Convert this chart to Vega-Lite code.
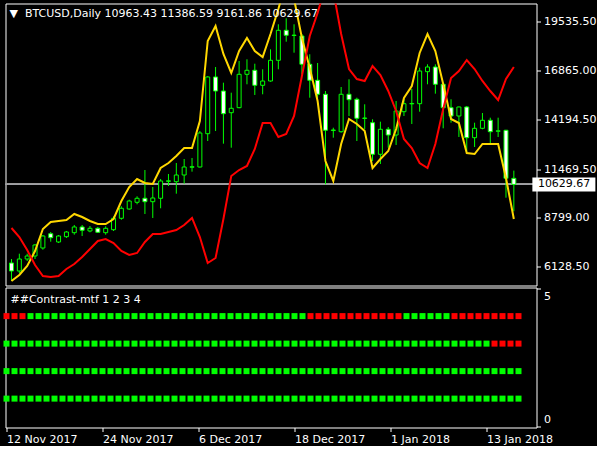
{
  "$schema": "https://vega.github.io/schema/vega-lite/v6.json",
  "background": "black",
  "padding": {"left": 2.5, "top": 2.5, "right": 0, "bottom": 0},
  "config": {
    "view": {"stroke": "white", "strokeWidth": 1},
    "font": "DejaVu Sans",
    "axis": {"labelFont": "DejaVu Sans", "labelFontSize": 11, "labelColor": "white", "tickColor": "white", "grid": false, "domain": false, "title": null}
  },
  "datasets": {
    "bars": [
      {"i":0,"date":"2017-11-12","open":6332,"high":6550,"low":5347,"close":5894,"yellow":5347,"red":8247,"tf1":"down","tf2":"up","tf3":"up","tf4":"up"},
      {"i":1,"date":"2017-11-13","open":5894,"high":6840,"low":5784,"close":6550,"yellow":5675,"red":7754,"tf1":"down","tf2":"up","tf3":"up","tf4":"up"},
      {"i":2,"date":"2017-11-14","open":6550,"high":6840,"low":6441,"close":6715,"yellow":6167,"red":7043,"tf1":"down","tf2":"up","tf3":"up","tf4":"up"},
      {"i":3,"date":"2017-11-15","open":6715,"high":7371,"low":6550,"close":7317,"yellow":6988,"red":6222,"tf1":"up","tf2":"up","tf3":"up","tf4":"up"},
      {"i":4,"date":"2017-11-16","open":7152,"high":7864,"low":7059,"close":7809,"yellow":8192,"red":5620,"tf1":"up","tf2":"up","tf3":"up","tf4":"up"},
      {"i":5,"date":"2017-11-17","open":7935,"high":8028,"low":7497,"close":7716,"yellow":8575,"red":5565,"tf1":"up","tf2":"up","tf3":"up","tf4":"up"},
      {"i":6,"date":"2017-11-18","open":7481,"high":7864,"low":7426,"close":7809,"yellow":8630,"red":5620,"tf1":"up","tf2":"up","tf3":"up","tf4":"up"},
      {"i":7,"date":"2017-11-19","open":7771,"high":8083,"low":7700,"close":8028,"yellow":8684,"red":6003,"tf1":"up","tf2":"up","tf3":"up","tf4":"up"},
      {"i":8,"date":"2017-11-20","open":7990,"high":8411,"low":7880,"close":8302,"yellow":9013,"red":6277,"tf1":"up","tf2":"up","tf3":"up","tf4":"up"},
      {"i":9,"date":"2017-11-21","open":8302,"high":8411,"low":7809,"close":8121,"yellow":8849,"red":6660,"tf1":"up","tf2":"up","tf3":"up","tf4":"up"},
      {"i":10,"date":"2017-11-22","open":8083,"high":8356,"low":8012,"close":8230,"yellow":8630,"red":7098,"tf1":"up","tf2":"up","tf3":"up","tf4":"up"},
      {"i":11,"date":"2017-11-23","open":8230,"high":8302,"low":7973,"close":8012,"yellow":8466,"red":7535,"tf1":"up","tf2":"up","tf3":"up","tf4":"up"},
      {"i":12,"date":"2017-11-24","open":7990,"high":8340,"low":7880,"close":8230,"yellow":8466,"red":7645,"tf1":"up","tf2":"up","tf3":"up","tf4":"up"},
      {"i":13,"date":"2017-11-25","open":8154,"high":8887,"low":8083,"close":8778,"yellow":8739,"red":7426,"tf1":"up","tf2":"up","tf3":"up","tf4":"up"},
      {"i":14,"date":"2017-11-26","open":8778,"high":9434,"low":8701,"close":9325,"yellow":9724,"red":6988,"tf1":"up","tf2":"up","tf3":"up","tf4":"up"},
      {"i":15,"date":"2017-11-27","open":9286,"high":9795,"low":9248,"close":9724,"yellow":10490,"red":6769,"tf1":"up","tf2":"up","tf3":"up","tf4":"up"},
      {"i":16,"date":"2017-11-28","open":9653,"high":9981,"low":9543,"close":9872,"yellow":10928,"red":6879,"tf1":"up","tf2":"up","tf3":"up","tf4":"up"},
      {"i":17,"date":"2017-11-29","open":9872,"high":11420,"low":9013,"close":9686,"yellow":10709,"red":7481,"tf1":"up","tf2":"up","tf3":"up","tf4":"up"},
      {"i":18,"date":"2017-11-30","open":9686,"high":10490,"low":8794,"close":9888,"yellow":10654,"red":7918,"tf1":"up","tf2":"up","tf3":"up","tf4":"up"},
      {"i":19,"date":"2017-12-01","open":9872,"high":10928,"low":9325,"close":10819,"yellow":11530,"red":7918,"tf1":"up","tf2":"up","tf3":"up","tf4":"up"},
      {"i":20,"date":"2017-12-02","open":10800,"high":11202,"low":10545,"close":10830,"yellow":11804,"red":8028,"tf1":"up","tf2":"up","tf3":"up","tf4":"up"},
      {"i":21,"date":"2017-12-03","open":10780,"high":11804,"low":10124,"close":11147,"yellow":12187,"red":8138,"tf1":"up","tf2":"up","tf3":"up","tf4":"up"},
      {"i":22,"date":"2017-12-04","open":11147,"high":12022,"low":10671,"close":11585,"yellow":12624,"red":8411,"tf1":"up","tf2":"up","tf3":"up","tf4":"up"},
      {"i":23,"date":"2017-12-05","open":11570,"high":12077,"low":11328,"close":11600,"yellow":12624,"red":8794,"tf1":"up","tf2":"up","tf3":"up","tf4":"up"},
      {"i":24,"date":"2017-12-06","open":11585,"high":13555,"low":11560,"close":13445,"yellow":14102,"red":7754,"tf1":"up","tf2":"up","tf3":"up","tf4":"up"},
      {"i":25,"date":"2017-12-07","open":13407,"high":16560,"low":13007,"close":16510,"yellow":18479,"red":6332,"tf1":"up","tf2":"up","tf3":"up","tf4":"up"},
      {"i":26,"date":"2017-12-08","open":16510,"high":17057,"low":13555,"close":15743,"yellow":19300,"red":6605,"tf1":"up","tf2":"up","tf3":"up","tf4":"up"},
      {"i":27,"date":"2017-12-09","open":15743,"high":16198,"low":12860,"close":14501,"yellow":17768,"red":8739,"tf1":"up","tf2":"up","tf3":"up","tf4":"up"},
      {"i":28,"date":"2017-12-10","open":14556,"high":15650,"low":12641,"close":14797,"yellow":16728,"red":11092,"tf1":"up","tf2":"up","tf3":"up","tf4":"up"},
      {"i":29,"date":"2017-12-11","open":14830,"high":17385,"low":14800,"close":16657,"yellow":17932,"red":11420,"tf1":"up","tf2":"up","tf3":"up","tf4":"up"},
      {"i":30,"date":"2017-12-12","open":16657,"high":17478,"low":16110,"close":16876,"yellow":18644,"red":11639,"tf1":"up","tf2":"up","tf3":"up","tf4":"up"},
      {"i":31,"date":"2017-12-13","open":16876,"high":17237,"low":15525,"close":16055,"yellow":17932,"red":12570,"tf1":"up","tf2":"up","tf3":"up","tf4":"up"},
      {"i":32,"date":"2017-12-14","open":16055,"high":16931,"low":15563,"close":16291,"yellow":17604,"red":13992,"tf1":"up","tf2":"up","tf3":"up","tf4":"up"},
      {"i":33,"date":"2017-12-15","open":16291,"high":18025,"low":16252,"close":17423,"yellow":18862,"red":13992,"tf1":"up","tf2":"up","tf3":"up","tf4":"up"},
      {"i":34,"date":"2017-12-16","open":17423,"high":19393,"low":16931,"close":19065,"yellow":20230,"red":13226,"tf1":"up","tf2":"up","tf3":"up","tf4":"up"},
      {"i":35,"date":"2017-12-17","open":19065,"high":19722,"low":18441,"close":18791,"yellow":21763,"red":13390,"tf1":"up","tf2":"up","tf3":"up","tf4":"up"},
      {"i":36,"date":"2017-12-18","open":18800,"high":19393,"low":17839,"close":18780,"yellow":20778,"red":14375,"tf1":"up","tf2":"up","tf3":"up","tf4":"up"},
      {"i":37,"date":"2017-12-19","open":18753,"high":18862,"low":16657,"close":17204,"yellow":18644,"red":16564,"tf1":"up","tf2":"up","tf3":"up","tf4":"up"},
      {"i":38,"date":"2017-12-20","open":17204,"high":17752,"low":15377,"close":16329,"yellow":17002,"red":18753,"tf1":"down","tf2":"up","tf3":"up","tf4":"up"},
      {"i":39,"date":"2017-12-21","open":16329,"high":17276,"low":15360,"close":15563,"yellow":15196,"red":20012,"tf1":"down","tf2":"up","tf3":"up","tf4":"up"},
      {"i":40,"date":"2017-12-22","open":15563,"high":15743,"low":10638,"close":13593,"yellow":11913,"red":21489,"tf1":"down","tf2":"up","tf3":"up","tf4":"up"},
      {"i":41,"date":"2017-12-23","open":13580,"high":13735,"low":13188,"close":13610,"yellow":10819,"red":21215,"tf1":"down","tf2":"up","tf3":"up","tf4":"up"},
      {"i":42,"date":"2017-12-25","open":13516,"high":15962,"low":13462,"close":15563,"yellow":12843,"red":18862,"tf1":"down","tf2":"up","tf3":"up","tf4":"up"},
      {"i":43,"date":"2017-12-26","open":15563,"high":16384,"low":14375,"close":15267,"yellow":14211,"red":16947,"tf1":"down","tf2":"up","tf3":"up","tf4":"up"},
      {"i":44,"date":"2017-12-27","open":15289,"high":15377,"low":13007,"close":14250,"yellow":13938,"red":16400,"tf1":"down","tf2":"up","tf3":"up","tf4":"up"},
      {"i":45,"date":"2017-12-28","open":14240,"high":15016,"low":13648,"close":14265,"yellow":13555,"red":16291,"tf1":"down","tf2":"up","tf3":"up","tf4":"up"},
      {"i":46,"date":"2017-12-29","open":14009,"high":14195,"low":11913,"close":12280,"yellow":11530,"red":17111,"tf1":"down","tf2":"up","tf3":"up","tf4":"up"},
      {"i":47,"date":"2017-12-30","open":12280,"high":14064,"low":11749,"close":13648,"yellow":12022,"red":16619,"tf1":"down","tf2":"up","tf3":"up","tf4":"up"},
      {"i":48,"date":"2018-01-01","open":13648,"high":13774,"low":12641,"close":13336,"yellow":12460,"red":15743,"tf1":"down","tf2":"up","tf3":"up","tf4":"up"},
      {"i":49,"date":"2018-01-02","open":13336,"high":15196,"low":12789,"close":14649,"yellow":13664,"red":14649,"tf1":"down","tf2":"up","tf3":"up","tf4":"up"},
      {"i":50,"date":"2018-01-03","open":14611,"high":15306,"low":14375,"close":15049,"yellow":15360,"red":13117,"tf1":"up","tf2":"up","tf3":"up","tf4":"up"},
      {"i":51,"date":"2018-01-04","open":15040,"high":15853,"low":13938,"close":15060,"yellow":16017,"red":12624,"tf1":"up","tf2":"up","tf3":"up","tf4":"up"},
      {"i":52,"date":"2018-01-05","open":15049,"high":17018,"low":14611,"close":16838,"yellow":17823,"red":11804,"tf1":"up","tf2":"up","tf3":"up","tf4":"up"},
      {"i":53,"date":"2018-01-06","open":16800,"high":17204,"low":16110,"close":17057,"yellow":18862,"red":11530,"tf1":"up","tf2":"up","tf3":"up","tf4":"up"},
      {"i":54,"date":"2018-01-07","open":17057,"high":17204,"low":15596,"close":16110,"yellow":17932,"red":12843,"tf1":"up","tf2":"up","tf3":"up","tf4":"up"},
      {"i":55,"date":"2018-01-08","open":16110,"high":16198,"low":13702,"close":14830,"yellow":16126,"red":14758,"tf1":"up","tf2":"up","tf3":"up","tf4":"up"},
      {"i":56,"date":"2018-01-09","open":14830,"high":15289,"low":14009,"close":14375,"yellow":14211,"red":16455,"tf1":"down","tf2":"up","tf3":"up","tf4":"up"},
      {"i":57,"date":"2018-01-10","open":14375,"high":14890,"low":13226,"close":14868,"yellow":13992,"red":16838,"tf1":"down","tf2":"up","tf3":"up","tf4":"up"},
      {"i":58,"date":"2018-01-11","open":14868,"high":14923,"low":12422,"close":13188,"yellow":12351,"red":17440,"tf1":"down","tf2":"up","tf3":"up","tf4":"up"},
      {"i":59,"date":"2018-01-12","open":13188,"high":14009,"low":12679,"close":13702,"yellow":12296,"red":16947,"tf1":"down","tf2":"up","tf3":"up","tf4":"up"},
      {"i":60,"date":"2018-01-13","open":13702,"high":14540,"low":13648,"close":14140,"yellow":12843,"red":16291,"tf1":"down","tf2":"up","tf3":"up","tf4":"up"},
      {"i":61,"date":"2018-01-14","open":14140,"high":14282,"low":12860,"close":13516,"yellow":12843,"red":15743,"tf1":"down","tf2":"down","tf3":"up","tf4":"up"},
      {"i":62,"date":"2018-01-15","open":13540,"high":14282,"low":13226,"close":13565,"yellow":12843,"red":15251,"tf1":"down","tf2":"down","tf3":"up","tf4":"up"},
      {"i":63,"date":"2018-01-16","open":13593,"high":13620,"low":9905,"close":10966,"yellow":10983,"red":16400,"tf1":"down","tf2":"down","tf3":"up","tf4":"up"},
      {"i":64,"date":"2018-01-17","open":10963.43,"high":11386.59,"low":9161.86,"close":10629.67,"yellow":8739,"red":17057,"tf1":"down","tf2":"down","tf3":"up","tf4":"up"}
    ]
  },
  "spacing": 0,
  "vconcat": [
    {
      "width": 531,
      "height": 282,
      "title": {"text": "▼\u00a0 BTCUSD,Daily 10963.43 11386.59 9161.86 10629.67", "anchor": "start", "frame": "group", "offset": -24, "dx": 4, "color": "white", "font": "DejaVu Sans", "fontSize": 11, "fontWeight": "normal", "baseline": "alphabetic"},
      "data": {"name": "bars"},
      "layer": [
        {
          "mark": {"type": "rule", "color": "#a0a0a4", "strokeWidth": 1},
          "encoding": {
            "y": {"datum": 10629.67, "type": "quantitative", "scale": {"domain": [5100, 20531], "nice": false, "zero": false},
              "axis": {"orient": "right", "values": [6128.5, 8799, 11469.5, 14194.5, 16865, 19535.5], "format": ".2f", "tickSize": 4, "labelPadding": 3}}
          }
        },
        {
          "mark": {"type": "rule", "color": "#00ff00", "strokeWidth": 1, "clip": true},
          "encoding": {
            "x": {"field": "i", "type": "quantitative", "scale": {"domain": [-0.125, 66.25], "nice": false, "zero": false}, "axis": null},
            "y": {"field": "low", "type": "quantitative"},
            "y2": {"field": "high"}
          }
        },
        {
          "mark": {"type": "bar", "width": 4, "stroke": "#00ff00", "strokeWidth": 1, "clip": true},
          "encoding": {
            "x": {"field": "i", "type": "quantitative"},
            "y": {"field": "open", "type": "quantitative"},
            "y2": {"field": "close"},
            "fill": {"condition": {"test": "datum.close < datum.open", "value": "white"}, "value": "black"}
          }
        },
        {
          "mark": {"type": "line", "color": "#ffd700", "strokeWidth": 2, "clip": true},
          "encoding": {
            "x": {"field": "i", "type": "quantitative"},
            "y": {"field": "yellow", "type": "quantitative"}
          }
        },
        {
          "mark": {"type": "line", "color": "#ff0000", "strokeWidth": 2, "clip": true},
          "encoding": {
            "x": {"field": "i", "type": "quantitative"},
            "y": {"field": "red", "type": "quantitative"}
          }
        },
        {
          "data": {"values": [{"price": 10629.67}]},
          "mark": {"type": "point", "shape": "M-1,-0.222H1V0.222H-1Z", "size": 3969, "filled": true, "color": "white", "opacity": 1},
          "encoding": {
            "x": {"datum": 70.375, "type": "quantitative"},
            "y": {"field": "price", "type": "quantitative"}
          }
        },
        {
          "data": {"values": [{"price": 10629.67, "label": "10629.67"}]},
          "mark": {"type": "text", "align": "left", "baseline": "middle", "color": "black", "font": "DejaVu Sans", "fontSize": 11},
          "encoding": {
            "x": {"datum": 67.0625, "type": "quantitative"},
            "y": {"field": "price", "type": "quantitative"},
            "text": {"field": "label"}
          }
        }
      ]
    },
    {
      "width": 531,
      "height": 140,
      "title": {"text": "##Contrast-mtf 1 2 3 4", "anchor": "start", "frame": "group", "offset": -26, "dx": 5, "color": "white", "font": "DejaVu Sans", "fontSize": 11, "fontWeight": "normal", "baseline": "alphabetic"},
      "data": {"name": "bars"},
      "layer": [
        {
          "mark": {"type": "square", "size": 36, "opacity": 1},
          "encoding": {
            "x": {"field": "i", "type": "quantitative", "scale": {"domain": [-0.125, 66.25], "nice": false, "zero": false},
              "axis": {"values": [0, 12, 24, 36, 48, 60], "labelExpr": "['12 Nov 2017','24 Nov 2017','6 Dec 2017','18 Dec 2017','1 Jan 2018','13 Jan 2018'][datum.value/12]", "labelAlign": "left", "labelFlush": false, "labelOverlap": false, "tickSize": 4, "labelPadding": 2}},
            "y": {"datum": 4, "type": "quantitative", "scale": {"domain": [-0.05, 5.04], "nice": false, "zero": false},
              "axis": {"orient": "right", "values": [0, 5], "tickSize": 4, "labelPadding": 3, "labelOffset": {"condition": {"test": "datum.value > 2", "value": 8}, "value": -7}}},
            "color": {"field": "tf1", "type": "nominal", "scale": {"domain": ["up", "down"], "range": ["#00ff00", "#ff0000"]}, "legend": null}
          }
        },
        {
          "mark": {"type": "square", "size": 36, "opacity": 1},
          "encoding": {
            "x": {"field": "i", "type": "quantitative"},
            "y": {"datum": 3, "type": "quantitative"},
            "color": {"field": "tf2", "type": "nominal", "legend": null}
          }
        },
        {
          "mark": {"type": "square", "size": 36, "opacity": 1},
          "encoding": {
            "x": {"field": "i", "type": "quantitative"},
            "y": {"datum": 2, "type": "quantitative"},
            "color": {"field": "tf3", "type": "nominal", "legend": null}
          }
        },
        {
          "mark": {"type": "square", "size": 36, "opacity": 1},
          "encoding": {
            "x": {"field": "i", "type": "quantitative"},
            "y": {"datum": 1, "type": "quantitative"},
            "color": {"field": "tf4", "type": "nominal", "legend": null}
          }
        }
      ]
    }
  ]
}
